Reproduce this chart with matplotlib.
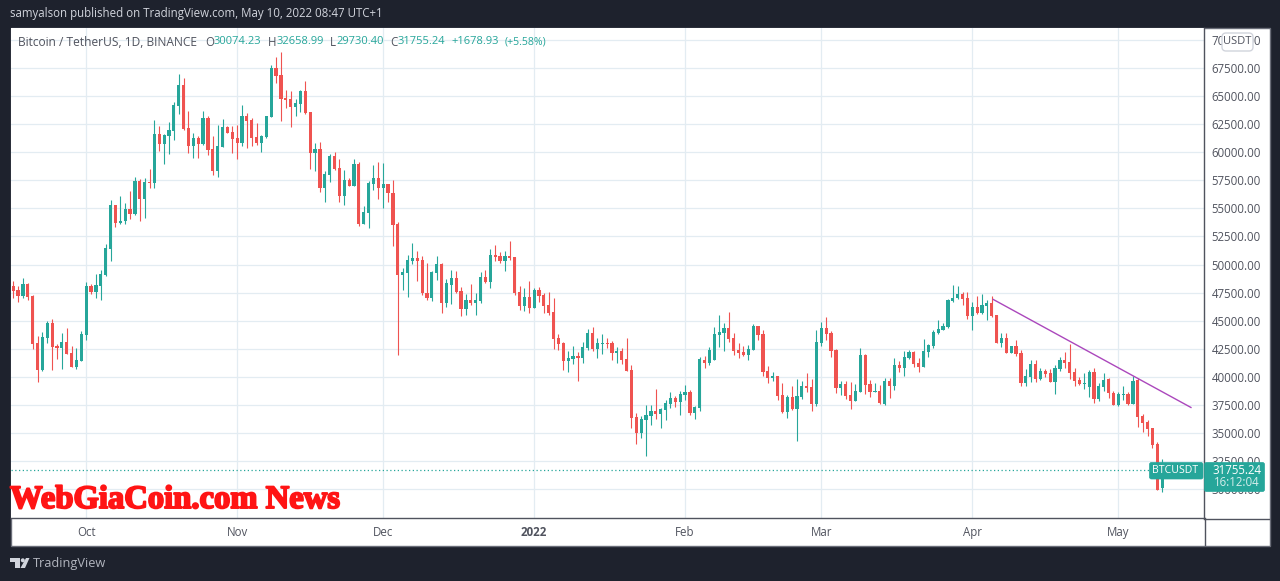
import matplotlib
matplotlib.use("Agg")
import matplotlib.pyplot as plt
import matplotlib.patheffects as pe
from matplotlib.patches import Circle, FancyBboxPatch, Polygon, Rectangle
import numpy as np
import pandas as pd

plt.rcParams["font.family"] = "Open Sans"

DARK = "#1e222d"
UP = "#26a69a"
DOWN = "#ef5350"
GRID = "#e3ecf2"
TEXT = "#50535e"

opens = [48100, 47740, 47210, 48270, 47210, 43020, 40620, 43470, 44800, 42760, 42580, 43110, 42130, 40890, 41420, 43740,
         48100, 47560, 48100, 49070, 51390, 55300, 53700, 53880, 54950, 54500, 57440, 55840, 57350, 57260, 61620, 60730,
         61450, 61890, 64120, 65990, 62160, 60560, 61270, 60730, 63050, 60290, 58330, 60470, 62250, 61800, 61270, 60820,
         63230, 62870, 61360, 60820, 61360, 63140, 67500, 66880, 64830, 64740, 64030, 64290, 65450, 63580, 59930, 60290,
         56820, 57980, 59670, 58600, 56110, 57530, 56990, 58950, 53610, 54590, 57170, 57710, 56820, 57170, 56370, 53610,
         49070, 49250, 50320, 50590, 50410, 47470, 47030, 49250, 50050, 46580, 48190, 48810, 47650, 46050, 46850, 46580,
         46760, 48900, 48450, 50860, 50770, 50320, 50770, 50680, 47560, 46320, 47120, 46140, 47740, 47300, 46400, 45780,
         43470, 43020, 41420, 41600, 41870, 41690, 42580, 43910, 42490, 42930, 43020, 43020, 42130, 42310, 41600, 40620,
         36440, 35010, 36170, 36530, 36970, 36700, 37060, 37590, 38130, 37770, 38400, 38660, 36790, 37240, 41510, 41240,
         41510, 43740, 43910, 44360, 43470, 42400, 42220, 41960, 42400, 44540, 43820, 40530, 39910, 40090, 38400, 36880,
         38220, 37150, 38220, 39200, 39110, 37590, 43020, 44360, 43910, 42400, 39020, 39370, 38400, 37860, 38660, 41960,
         39370, 38660, 38750, 37590, 39640, 39200, 41060, 40800, 41690, 42220, 41240, 40890, 42220, 42760, 43910, 44180,
         44450, 46760, 47030, 47380, 47030, 45420, 46230, 45690, 46320, 46580, 45510, 43020, 43470, 42130, 42760, 42130,
         39460, 40000, 41150, 39820, 40530, 40350, 39550, 40710, 41510, 41330, 40440, 39730, 39370, 39110, 40440, 38040,
         39110, 39820, 38570, 37500, 38400, 38480, 37590, 39730, 36530, 35990, 35460, 34030, 30074]
highs = [48540, 48100, 48810, 48360, 47300, 43650, 44000, 44980, 45160, 42930, 43910, 44360, 42760, 42580, 44090, 48450,
         48270, 49160, 49520, 51830, 55750, 55300, 56100, 55480, 56550, 57800, 57620, 57710, 58510, 62870, 62340, 61620,
         62690, 64470, 66960, 66610, 63670, 61710, 61450, 63670, 63230, 61450, 62430, 62960, 62340, 62340, 62430, 64200,
         63490, 63050, 62600, 61540, 63230, 67770, 68480, 68920, 65540, 65450, 64740, 65540, 66340, 63580, 60820, 60910,
         58330, 59840, 60020, 59400, 58420, 57710, 59400, 59130, 55220, 57440, 58870, 59130, 59040, 57170, 57530, 53790,
         49700, 50860, 51920, 51210, 50770, 50140, 49430, 50770, 50140, 48720, 49520, 49430, 48010, 47380, 48270, 47470,
         49340, 49520, 51390, 51750, 51120, 51210, 52100, 50680, 48100, 47920, 48540, 47920, 48010, 47470, 47560, 47030,
         43820, 43110, 42310, 42760, 42220, 43110, 44270, 44450, 43470, 43820, 43470, 43200, 42670, 42580, 43470, 41060,
         36790, 36530, 37500, 37500, 38930, 37240, 37950, 38660, 38310, 38750, 39290, 38840, 37420, 41780, 41870, 42670,
         44450, 45510, 44800, 45780, 43910, 43020, 42760, 42850, 44710, 44540, 44180, 40980, 40440, 40090, 39460, 38400,
         39200, 39820, 39640, 40350, 39820, 44180, 44890, 45340, 44090, 42490, 39640, 39640, 39550, 39370, 42580, 42040,
         39730, 39460, 39290, 39910, 39910, 41690, 41420, 42310, 42400, 42310, 41690, 43380, 42930, 44180, 45070, 44800,
         46940, 48190, 48100, 47560, 47560, 46670, 47210, 47380, 46850, 47210, 45510, 43910, 43910, 42760, 43290, 42400,
         40710, 41510, 41510, 40800, 40710, 40710, 41060, 41780, 42220, 42930, 40800, 40000, 40350, 40620, 40800, 39460,
         40350, 39910, 38750, 38660, 39200, 38660, 40090, 39910, 36700, 36170, 35460, 34210, 32659]
lows = [47030, 46670, 47030, 46850, 42490, 39550, 40530, 43020, 40620, 41600, 40710, 42040, 40890, 40710, 41420, 43290,
        47380, 47030, 46850, 48980, 50320, 53340, 53610, 53610, 54060, 54410, 53880, 54150, 56820, 56820, 60110, 58950,
        59840, 61090, 63400, 61980, 59930, 59490, 59490, 60650, 59760, 57980, 57800, 60470, 61710, 59930, 59400, 60560,
        60380, 60560, 60650, 60020, 61270, 63140, 66160, 62780, 63940, 62250, 63230, 63580, 63400, 58510, 58330, 56460,
        55570, 57350, 58420, 55570, 55300, 56990, 56990, 53430, 53610, 53260, 56640, 55840, 55040, 55570, 51660, 41960,
        47740, 47120, 50050, 48540, 47300, 46850, 46760, 48630, 45690, 46220, 46490, 47470, 45420, 45510, 46400, 45510,
        46580, 48360, 47920, 50320, 50140, 49430, 50410, 47300, 45960, 45870, 45690, 46140, 46670, 45690, 45510, 42490,
        42400, 40620, 40440, 41150, 39640, 41240, 42400, 42310, 41690, 42040, 42580, 41510, 41240, 41150, 40530, 35460,
        34030, 34570, 32990, 35730, 36260, 35460, 36170, 37240, 37320, 36620, 37950, 36620, 36260, 36970, 40800, 41060,
        41510, 42670, 42310, 43110, 41960, 41690, 41870, 41510, 42400, 43290, 40090, 39460, 39640, 37950, 36790, 36350,
        37060, 34300, 38040, 38660, 36970, 37420, 42760, 43290, 41780, 38570, 38400, 38040, 37150, 37860, 38660, 38480,
        38220, 38660, 37590, 37500, 38130, 38840, 40440, 40090, 41600, 40890, 40440, 40890, 41780, 42580, 43820, 44180,
        44360, 46670, 46940, 46400, 45160, 44180, 45600, 45600, 45070, 45340, 43020, 42670, 42130, 42130, 41870, 39200,
        39200, 39550, 39550, 39730, 40000, 39550, 38480, 40530, 40800, 39820, 39200, 39290, 38930, 38220, 37680, 37860,
        38750, 38130, 37500, 37420, 37950, 37500, 37590, 35550, 35100, 34750, 33680, 29940, 29730]
closes = [47650, 47210, 48270, 47120, 42930, 40620, 43560, 44800, 42670, 42580, 43110, 42040, 40890, 41510, 43820, 48100,
          47560, 48190, 49160, 51480, 55300, 53700, 53880, 54950, 54500, 57440, 55840, 57350, 57260, 61630, 60730, 61540,
          61980, 64200, 65990, 62070, 60560, 61270, 60730, 63050, 60200, 58330, 60560, 62250, 61710, 61180, 60820, 63230,
          62780, 61270, 60820, 61450, 63230, 67500, 66790, 64740, 64650, 64030, 64380, 65450, 63490, 59930, 60290, 56820,
          58060, 59670, 58510, 56110, 57530, 56990, 58950, 53610, 54680, 57260, 57710, 56820, 57170, 56370, 53530, 49070,
          49340, 50410, 50590, 50320, 47470, 47030, 49340, 50050, 46580, 48360, 48810, 47560, 46050, 46850, 46580, 46850,
          48900, 48450, 50860, 50680, 50320, 50770, 50590, 47470, 46320, 47120, 46140, 47740, 47210, 46320, 45690, 43380,
          42930, 41420, 41690, 41870, 41690, 42670, 43910, 42490, 43020, 43020, 42930, 42130, 42310, 41510, 40530, 36350,
          35010, 36260, 36620, 36970, 36700, 37150, 37680, 38130, 37770, 38480, 38660, 36790, 37330, 41600, 41240, 42400,
          43820, 44000, 44360, 43380, 42310, 42130, 41960, 42490, 44540, 43740, 40440, 39910, 40090, 38310, 36880, 38220,
          37150, 38310, 39200, 39020, 37590, 43110, 44360, 43820, 42310, 39020, 39370, 38310, 37860, 38750, 41960, 39290,
          38660, 38750, 37680, 39640, 39200, 41060, 40800, 41780, 42220, 41150, 40890, 42310, 42850, 44000, 44270, 44540,
          46850, 47030, 47380, 46940, 45420, 46230, 45690, 46400, 46580, 45420, 43020, 43470, 42130, 42760, 42040, 39460,
          40090, 41150, 39820, 40530, 40260, 39550, 40800, 41510, 41240, 40350, 39640, 39370, 39460, 40440, 38040, 39200,
          39730, 38570, 37500, 38480, 38480, 37590, 39640, 36440, 35900, 35370, 33950, 29940, 31755]

dates = pd.date_range("2021-09-16", periods=len(opens), freq="D")
month_starts = pd.to_datetime(["2021-10-01", "2021-11-01", "2021-12-01", "2022-01-01",
                               "2022-02-01", "2022-03-01", "2022-04-01", "2022-05-01"])
month_labels = ["Oct", "Nov", "Dec", "2022", "Feb", "Mar", "Apr", "May"]
price_ticks = np.arange(30000, 70001, 2500)
trend_dates = pd.to_datetime(["2022-04-05 07:00", "2022-05-15 22:00"])
trend_prices = [46900, 37280]
last_price = 31755.24

fig = plt.figure(figsize=(12.8, 5.81), dpi=100, facecolor=DARK)


def px_rect(x0, y0, x1, y1):
    return [x0 / 1280, 1 - y1 / 581, (x1 - x0) / 1280, (y1 - y0) / 581]


# white pane behind everything
back = fig.add_axes([0, 0, 1, 1], zorder=0)
back.set_xlim(0, 1280)
back.set_ylim(581, 0)
back.axis("off")
back.add_patch(Rectangle((10.5, 27.5), 1259, 518, facecolor="white", edgecolor="#6a6d78", linewidth=1))

ax = fig.add_axes(px_rect(11, 28, 1204, 518), zorder=1, facecolor="white")
x = np.arange(len(dates))
x_start = dates[0]


def day(d):
    return (d - x_start).total_seconds() / 86400


o = np.array(opens, dtype=float)
h = np.array(highs, dtype=float)
l = np.array(lows, dtype=float)
c = np.array(closes, dtype=float)
colors = np.where(c >= o, UP, DOWN)

wicks = ax.vlines(x, l, h, colors=colors, linewidth=0.8, zorder=3)
wicks.set_snap(True)
ax.bar(x, np.maximum(np.abs(c - o), 60), bottom=np.minimum(o, c), width=0.66, color=colors, linewidth=0, zorder=3)
ax.plot([day(d) for d in trend_dates], trend_prices, color="#ab47bc", linewidth=1.0, zorder=4)
ax.axhline(last_price, color=UP, linewidth=0.9, linestyle=(0, (1, 2)), zorder=2)

ax.set_xlim(-0.452, 244.6)
ax.set_ylim(27440, 71060)
ax.set_xticks([day(d) for d in month_starts])
ax.set_xticklabels(month_labels)
ax.set_yticks(price_ticks)
ax.set_yticklabels(["%.2f" % p for p in price_ticks])
ax.yaxis.tick_right()
ax.tick_params(axis="both", length=0, labelsize=8.3, labelcolor=TEXT)
ax.tick_params(axis="y", pad=5.5)
ax.tick_params(axis="x", pad=5.5)
ax.get_xticklabels()[3].set_fontweight("bold")
ax.grid(True, color=GRID, linewidth=0.9, zorder=0)
ax.set_axisbelow(True)
for name, spine in ax.spines.items():
    spine.set_visible(name in ("right", "bottom"))
    spine.set_color("#50535e")
    spine.set_linewidth(1.0)

# overlay for header, labels and logo, in pixels
top = fig.add_axes([0, 0, 1, 1], zorder=5)
top.set_xlim(0, 1280)
top.set_ylim(581, 0)
top.axis("off")
top.patch.set_alpha(0)

top.plot([1204.5, 1204.5], [518, 545], color="#50535e", linewidth=1.0)
top.plot([1204, 1269], [518.5, 518.5], color="#50535e", linewidth=1.0)
top.text(10, 14, "samyalson published on TradingView.com, May 10, 2022 08:47 UTC+1",
         color="#d1d4dc", fontsize=8.3, va="center")

legend_parts = [
    (18, "Bitcoin / TetherUS, 1D, BINANCE", TEXT, 8.65),
    (205, "O", TEXT, 8.3), (214, "30074.23", UP, 8.0),
    (268, "H", TEXT, 8.3), (277, "32658.99", UP, 8.0),
    (330, "L", TEXT, 8.3), (336, "29730.40", UP, 8.0),
    (390, "C", TEXT, 8.3), (398, "31755.24", UP, 8.0),
    (451, "+1678.93", UP, 8.0), (505, "(+5.58%)", UP, 7.6),
]
for lx, txt, col, size in legend_parts:
    top.text(lx, 42, txt, color=col, fontsize=size, va="center")

top.text(10, 499.5, "WebGiaCoin.com News", color="#ff1414", family="Liberation Serif",
         fontweight="bold", fontsize=23.5, va="center",
         path_effects=[pe.withStroke(linewidth=1.4, foreground="#ff1414")])

# USDT badge
top.add_patch(FancyBboxPatch((1222, 33), 31, 18, boxstyle="round,pad=0,rounding_size=4", facecolor="white",
                             edgecolor="#d1d4dc", linewidth=1))
top.text(1237.5, 41.5, "USDT", color=TEXT, fontsize=8, ha="center", va="center")

# last price labels
top.add_patch(FancyBboxPatch((1149.5, 462.5), 53.5, 16.5, boxstyle="round,pad=0,rounding_size=2", facecolor=UP,
                             edgecolor=UP, linewidth=0.5))
top.add_patch(FancyBboxPatch((1204.5, 462.5), 60, 29, boxstyle="round,pad=0,rounding_size=2", facecolor=UP,
                             edgecolor=UP, linewidth=0.5))
top.text(1175.5, 470.5, "BTCUSDT", color="white", fontsize=7.6, ha="center", va="center")
top.text(1237, 470, "31755.24", color="white", fontsize=8.3, ha="center", va="center")
top.text(1237, 483, "16:12:04", color="#d4edeb", fontsize=8.3, ha="center", va="center")

# TradingView logo and name
top.add_patch(Polygon([(10, 558), (20, 558), (20, 568), (15, 568), (15, 562), (10, 562)], facecolor="#d1d4dc", edgecolor="none"))
top.add_patch(Circle((22.8, 560.3), 2.0, facecolor="#d1d4dc", edgecolor="none"))
top.add_patch(Polygon([(26, 558), (29.5, 558), (25, 568), (20.5, 568)], facecolor="#d1d4dc", edgecolor="none"))
top.text(33, 563.5, "TradingView", color="#b2b5be", fontsize=9.2, va="center")

fig.savefig("out.png", dpi=100, facecolor=DARK)
